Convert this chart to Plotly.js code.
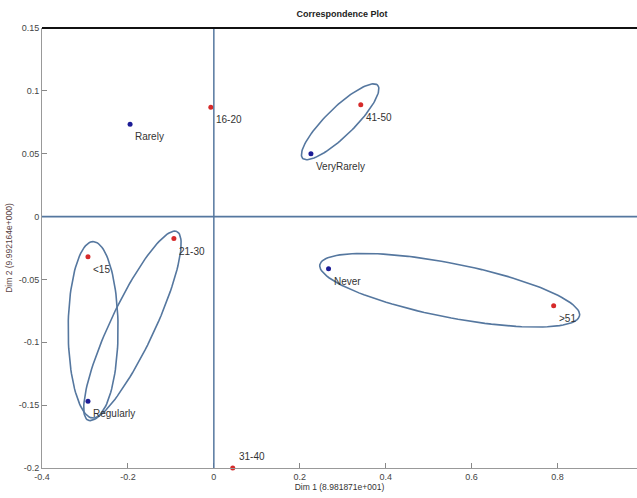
<!DOCTYPE html>
<html><head><meta charset="utf-8">
<script src="https://cdn.plot.ly/plotly-3.0.1.min.js"></script>
<style>html,body{margin:0;padding:0;background:#fff}</style>
</head><body><div id="chart" style="width:637px;height:498px"></div>
<script>
// Column points (frequency) - blue
const freqLabels = ["Rarely", "VeryRarely", "Never", "Regularly"];
const freqX = [-0.195, 0.226, 0.267, -0.293];
const freqY = [0.0734, 0.050, -0.0415, -0.147];
// Row points (age groups) - red
const ageLabels = ["16-20", "41-50", "<15", "21-30", ">51", "31-40"];
const ageX = [-0.007, 0.342, -0.293, -0.093, 0.791, 0.044];
const ageY = [0.087, 0.089, -0.032, -0.0175, -0.071, -0.200];
// Ellipses: center, first semi-axis vector, second semi-axis vector (data units)
const ellCx = [0.294, -0.281, -0.1895, 0.549];
const ellCy = [0.0754, -0.0901, -0.0869, -0.0586];
const ellUx = [0.0872, 0.0, 0.1035, 0.3023];
const ellUy = [0.0291, 0.0702, 0.075, -0.0203];
const ellVx = [0.0228, 0.0581, 0.0463, -0.0121];
const ellVy = [-0.0081, 0.0, -0.0075, -0.0211];
// Tick labels
const xTickVals = [-0.4, -0.2, 0, 0.2, 0.4, 0.6, 0.8];
const xTickText = ["-0.4", "-0.2", "0", "0.2", "0.4", "0.6", "0.8"];
const yTickVals = [0.15, 0.1, 0.05, 0, -0.05, -0.1, -0.15, -0.2];
const yTickText = ["0.15", "0.1", "0.05", "0", "-0.05", "-0.1", "-0.15", "-0.2"];

const lineCol = "#55779f";
const traces = [];
for (let i = 0; i < ellCx.length; i++) {
  const xs = [], ys = [];
  for (let k = 0; k <= 120; k++) {
    const t = 2 * Math.PI * k / 120;
    xs.push(ellCx[i] + ellUx[i] * Math.cos(t) + ellVx[i] * Math.sin(t));
    ys.push(ellCy[i] + ellUy[i] * Math.cos(t) + ellVy[i] * Math.sin(t));
  }
  traces.push({x: xs, y: ys, mode: "lines", line: {color: lineCol, width: 1.6}, hoverinfo: "skip", showlegend: false});
}
traces.push({x: freqX, y: freqY, mode: "markers", marker: {color: "#1c1c96", size: 5}, showlegend: false});
traces.push({x: ageX, y: ageY, mode: "markers", marker: {color: "#d62a2a", size: 5}, showlegend: false, cliponaxis: false});

const annotations = [];
function addLabels(labels, xs, ys) {
  labels.forEach((t, i) => {
    const up = ys[i] < -0.19;
    annotations.push({x: xs[i], y: ys[i], text: t, showarrow: false, xanchor: "left",
      yanchor: up ? "bottom" : "top", xshift: up ? 4 : 3, yshift: up ? 4 : -5,
      font: {family: "Liberation Sans, Arial, sans-serif", size: 10, color: "#333"}});
  });
}
addLabels(freqLabels, freqX, freqY);
addLabels(ageLabels, ageX, ageY);

const layout = {
  width: 637, height: 498,
  margin: {l: 42, r: 0, t: 28, b: 30},
  paper_bgcolor: "#fff", plot_bgcolor: "#fff",
  title: {text: "<b>Correspondence Plot</b>", x: 0.537, xanchor: "center", y: 0.978, yanchor: "top",
    font: {family: "Liberation Sans, Arial, sans-serif", size: 9, color: "#222"}},
  xaxis: {range: [-0.4, 0.985], tickvals: xTickVals, ticktext: xTickText, ticks: "inside", ticklen: 5,
    tickcolor: "#888", showgrid: false, zeroline: false, showline: true, linecolor: "#999", linewidth: 1,
    tickfont: {family: "Liberation Sans, Arial, sans-serif", size: 9, color: "#444"},
    title: {text: "Dim 1 (8.981871e+001)", standoff: 3, font: {family: "Liberation Sans, Arial, sans-serif", size: 8.5, color: "#333333"}}},
  yaxis: {range: [-0.2, 0.15], tickvals: yTickVals, ticktext: yTickText, ticks: "inside", ticklen: 5,
    tickcolor: "#888", showgrid: false, zeroline: false, showline: true, linecolor: "#999", linewidth: 1,
    tickfont: {family: "Liberation Sans, Arial, sans-serif", size: 9, color: "#444"},
    title: {text: "Dim 2 (9.992164e+000)", standoff: 4, font: {family: "Liberation Sans, Arial, sans-serif", size: 8.5, color: "#5a4444"}}},
  shapes: [
    {type: "line", xref: "x", yref: "paper", x0: 0, x1: 0, y0: 0, y1: 1, line: {color: lineCol, width: 1.5}},
    {type: "line", xref: "paper", yref: "y", x0: 0, x1: 1, y0: 0, y1: 0, line: {color: lineCol, width: 1.8}},
    {type: "line", xref: "paper", yref: "paper", x0: 0, x1: 1, y0: 1, y1: 1, line: {color: "#111", width: 2}}
  ],
  annotations: annotations
};
Plotly.newPlot("chart", traces, layout, {displayModeBar: false, staticPlot: true});
</script></body></html>
